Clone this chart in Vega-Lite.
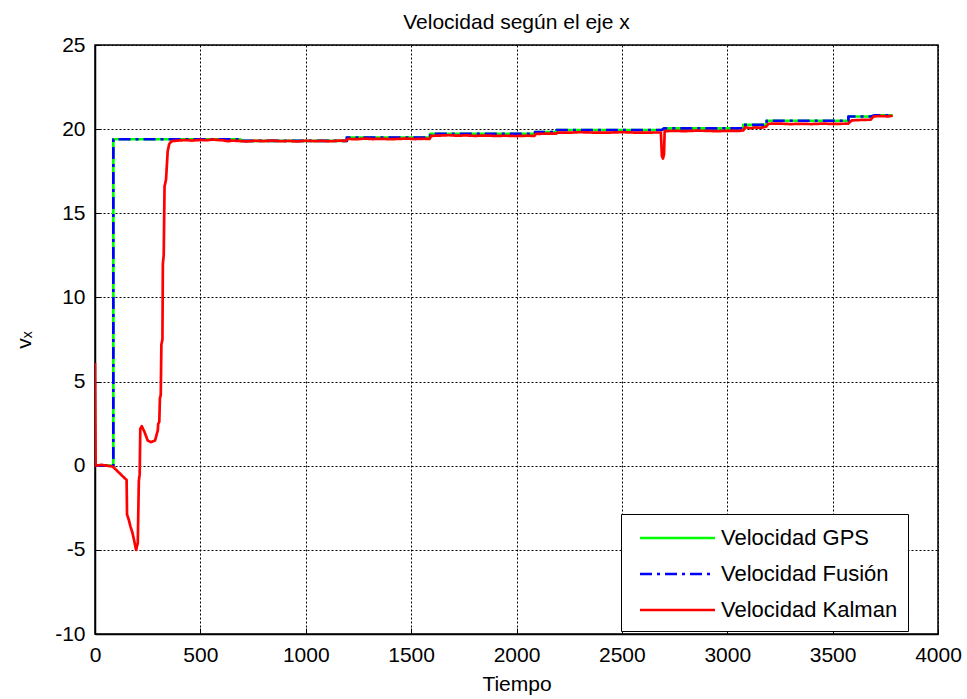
{
  "$schema": "https://vega.github.io/schema/vega-lite/v6.json",
  "width": 843,
  "height": 589,
  "autosize": {"type": "none"},
  "padding": {"left": 95, "top": 45, "right": 29, "bottom": 65},
  "background": "white",
  "config": {
    "font": "Liberation Sans",
    "view": {"stroke": "black", "strokeWidth": 1.5},
    "axis": {
      "domainColor": "black", "domainWidth": 1.5,
      "tickColor": "black", "tickSize": -6, "tickWidth": 1,
      "labelColor": "black", "labelFontSize": 21, "labelFont": "Liberation Sans",
      "titleColor": "black", "titleFontSize": 21, "titleFontWeight": "normal", "titleFont": "Liberation Sans",
      "grid": true, "gridColor": "black", "gridDash": [2, 2], "gridWidth": 1, "gridOpacity": 1
    }
  },
  "title": {"text": "Velocidad según el eje x", "fontSize": 21, "fontWeight": "normal", "font": "Liberation Sans", "color": "black", "offset": 1},
  "data": {"values": [
    {"s":"Velocidad GPS","i":1,"t":0,"v":0},
    {"s":"Velocidad GPS","i":2,"t":87,"v":0},
    {"s":"Velocidad GPS","i":3,"t":87,"v":19.4},
    {"s":"Velocidad GPS","i":4,"t":690,"v":19.4},
    {"s":"Velocidad GPS","i":5,"t":690,"v":19.3},
    {"s":"Velocidad GPS","i":6,"t":1195,"v":19.3},
    {"s":"Velocidad GPS","i":7,"t":1195,"v":19.5},
    {"s":"Velocidad GPS","i":8,"t":1590,"v":19.5},
    {"s":"Velocidad GPS","i":9,"t":1590,"v":19.72},
    {"s":"Velocidad GPS","i":10,"t":2088,"v":19.72},
    {"s":"Velocidad GPS","i":11,"t":2088,"v":19.82},
    {"s":"Velocidad GPS","i":12,"t":2190,"v":19.82},
    {"s":"Velocidad GPS","i":13,"t":2190,"v":19.95},
    {"s":"Velocidad GPS","i":14,"t":2690,"v":19.95},
    {"s":"Velocidad GPS","i":15,"t":2700,"v":20.05},
    {"s":"Velocidad GPS","i":16,"t":3076,"v":20.05},
    {"s":"Velocidad GPS","i":17,"t":3076,"v":20.25},
    {"s":"Velocidad GPS","i":18,"t":3187,"v":20.25},
    {"s":"Velocidad GPS","i":19,"t":3187,"v":20.5},
    {"s":"Velocidad GPS","i":20,"t":3575,"v":20.5},
    {"s":"Velocidad GPS","i":21,"t":3575,"v":20.75},
    {"s":"Velocidad GPS","i":22,"t":3680,"v":20.75},
    {"s":"Velocidad GPS","i":23,"t":3700,"v":20.82},
    {"s":"Velocidad GPS","i":24,"t":3785,"v":20.82},

    {"s":"Velocidad Fusión","i":1,"t":0,"v":0},
    {"s":"Velocidad Fusión","i":2,"t":87,"v":0},
    {"s":"Velocidad Fusión","i":3,"t":87,"v":19.4},
    {"s":"Velocidad Fusión","i":4,"t":690,"v":19.4},
    {"s":"Velocidad Fusión","i":5,"t":690,"v":19.3},
    {"s":"Velocidad Fusión","i":6,"t":1195,"v":19.3},
    {"s":"Velocidad Fusión","i":7,"t":1195,"v":19.5},
    {"s":"Velocidad Fusión","i":8,"t":1590,"v":19.5},
    {"s":"Velocidad Fusión","i":9,"t":1590,"v":19.72},
    {"s":"Velocidad Fusión","i":10,"t":2088,"v":19.72},
    {"s":"Velocidad Fusión","i":11,"t":2088,"v":19.82},
    {"s":"Velocidad Fusión","i":12,"t":2190,"v":19.82},
    {"s":"Velocidad Fusión","i":13,"t":2190,"v":19.95},
    {"s":"Velocidad Fusión","i":14,"t":2690,"v":19.95},
    {"s":"Velocidad Fusión","i":15,"t":2700,"v":20.05},
    {"s":"Velocidad Fusión","i":16,"t":3076,"v":20.05},
    {"s":"Velocidad Fusión","i":17,"t":3076,"v":20.25},
    {"s":"Velocidad Fusión","i":18,"t":3187,"v":20.25},
    {"s":"Velocidad Fusión","i":19,"t":3187,"v":20.5},
    {"s":"Velocidad Fusión","i":20,"t":3575,"v":20.5},
    {"s":"Velocidad Fusión","i":21,"t":3575,"v":20.75},
    {"s":"Velocidad Fusión","i":22,"t":3680,"v":20.75},
    {"s":"Velocidad Fusión","i":23,"t":3700,"v":20.82},
    {"s":"Velocidad Fusión","i":24,"t":3785,"v":20.82},

    {"s":"Velocidad Kalman","i":1,"t":0,"v":6.1},
    {"s":"Velocidad Kalman","i":2,"t":3,"v":0},
    {"s":"Velocidad Kalman","i":3,"t":30,"v":0.05},
    {"s":"Velocidad Kalman","i":4,"t":84,"v":-0.05},
    {"s":"Velocidad Kalman","i":5,"t":150,"v":-0.85},
    {"s":"Velocidad Kalman","i":6,"t":152,"v":-2.9},
    {"s":"Velocidad Kalman","i":7,"t":160,"v":-3.2},
    {"s":"Velocidad Kalman","i":8,"t":168,"v":-3.6},
    {"s":"Velocidad Kalman","i":9,"t":178,"v":-4.0},
    {"s":"Velocidad Kalman","i":10,"t":185,"v":-4.4},
    {"s":"Velocidad Kalman","i":11,"t":195,"v":-5.0},
    {"s":"Velocidad Kalman","i":12,"t":203,"v":-4.6},
    {"s":"Velocidad Kalman","i":13,"t":208,"v":-0.9},
    {"s":"Velocidad Kalman","i":14,"t":212,"v":-0.5},
    {"s":"Velocidad Kalman","i":15,"t":215,"v":2.2},
    {"s":"Velocidad Kalman","i":16,"t":222,"v":2.35},
    {"s":"Velocidad Kalman","i":17,"t":235,"v":2.0},
    {"s":"Velocidad Kalman","i":18,"t":250,"v":1.5},
    {"s":"Velocidad Kalman","i":19,"t":265,"v":1.4},
    {"s":"Velocidad Kalman","i":20,"t":285,"v":1.5},
    {"s":"Velocidad Kalman","i":21,"t":298,"v":2.1},
    {"s":"Velocidad Kalman","i":22,"t":300,"v":2.5},
    {"s":"Velocidad Kalman","i":23,"t":305,"v":2.6},
    {"s":"Velocidad Kalman","i":24,"t":308,"v":4.0},
    {"s":"Velocidad Kalman","i":25,"t":312,"v":4.2},
    {"s":"Velocidad Kalman","i":26,"t":315,"v":7.2},
    {"s":"Velocidad Kalman","i":27,"t":320,"v":7.5},
    {"s":"Velocidad Kalman","i":28,"t":322,"v":12.0},
    {"s":"Velocidad Kalman","i":29,"t":326,"v":12.5},
    {"s":"Velocidad Kalman","i":30,"t":330,"v":16.6},
    {"s":"Velocidad Kalman","i":31,"t":337,"v":17.0},
    {"s":"Velocidad Kalman","i":32,"t":345,"v":18.7},
    {"s":"Velocidad Kalman","i":33,"t":352,"v":19.1},
    {"s":"Velocidad Kalman","i":34,"t":360,"v":19.25},
    {"s":"Velocidad Kalman","i":35,"t":372,"v":19.3},
    {"s":"Velocidad Kalman","i":36,"t":400,"v":19.33},
    {"s":"Velocidad Kalman","i":37,"t":430,"v":19.35},
    {"s":"Velocidad Kalman","i":38,"t":460,"v":19.32},
    {"s":"Velocidad Kalman","i":39,"t":500,"v":19.36},
    {"s":"Velocidad Kalman","i":40,"t":530,"v":19.34},
    {"s":"Velocidad Kalman","i":41,"t":560,"v":19.38},
    {"s":"Velocidad Kalman","i":42,"t":590,"v":19.35},
    {"s":"Velocidad Kalman","i":43,"t":610,"v":19.33},
    {"s":"Velocidad Kalman","i":44,"t":630,"v":19.28},
    {"s":"Velocidad Kalman","i":45,"t":650,"v":19.32},
    {"s":"Velocidad Kalman","i":46,"t":680,"v":19.3},
    {"s":"Velocidad Kalman","i":47,"t":720,"v":19.27},
    {"s":"Velocidad Kalman","i":48,"t":760,"v":19.31},
    {"s":"Velocidad Kalman","i":49,"t":800,"v":19.29},
    {"s":"Velocidad Kalman","i":50,"t":840,"v":19.32},
    {"s":"Velocidad Kalman","i":51,"t":880,"v":19.28},
    {"s":"Velocidad Kalman","i":52,"t":920,"v":19.3},
    {"s":"Velocidad Kalman","i":53,"t":960,"v":19.27},
    {"s":"Velocidad Kalman","i":54,"t":1000,"v":19.31},
    {"s":"Velocidad Kalman","i":55,"t":1040,"v":19.29},
    {"s":"Velocidad Kalman","i":56,"t":1080,"v":19.3},
    {"s":"Velocidad Kalman","i":57,"t":1120,"v":19.28},
    {"s":"Velocidad Kalman","i":58,"t":1160,"v":19.32},
    {"s":"Velocidad Kalman","i":59,"t":1190,"v":19.3},
    {"s":"Velocidad Kalman","i":60,"t":1200,"v":19.42},
    {"s":"Velocidad Kalman","i":61,"t":1240,"v":19.4},
    {"s":"Velocidad Kalman","i":62,"t":1280,"v":19.44},
    {"s":"Velocidad Kalman","i":63,"t":1320,"v":19.41},
    {"s":"Velocidad Kalman","i":64,"t":1360,"v":19.43},
    {"s":"Velocidad Kalman","i":65,"t":1400,"v":19.4},
    {"s":"Velocidad Kalman","i":66,"t":1440,"v":19.42},
    {"s":"Velocidad Kalman","i":67,"t":1480,"v":19.44},
    {"s":"Velocidad Kalman","i":68,"t":1520,"v":19.41},
    {"s":"Velocidad Kalman","i":69,"t":1560,"v":19.43},
    {"s":"Velocidad Kalman","i":70,"t":1588,"v":19.42},
    {"s":"Velocidad Kalman","i":71,"t":1595,"v":19.6},
    {"s":"Velocidad Kalman","i":72,"t":1640,"v":19.62},
    {"s":"Velocidad Kalman","i":73,"t":1680,"v":19.64},
    {"s":"Velocidad Kalman","i":74,"t":1720,"v":19.61},
    {"s":"Velocidad Kalman","i":75,"t":1760,"v":19.63},
    {"s":"Velocidad Kalman","i":76,"t":1800,"v":19.6},
    {"s":"Velocidad Kalman","i":77,"t":1850,"v":19.62},
    {"s":"Velocidad Kalman","i":78,"t":1900,"v":19.6},
    {"s":"Velocidad Kalman","i":79,"t":1950,"v":19.61},
    {"s":"Velocidad Kalman","i":80,"t":2000,"v":19.59},
    {"s":"Velocidad Kalman","i":81,"t":2050,"v":19.61},
    {"s":"Velocidad Kalman","i":82,"t":2085,"v":19.6},
    {"s":"Velocidad Kalman","i":83,"t":2092,"v":19.72},
    {"s":"Velocidad Kalman","i":84,"t":2140,"v":19.73},
    {"s":"Velocidad Kalman","i":85,"t":2190,"v":19.74},
    {"s":"Velocidad Kalman","i":86,"t":2195,"v":19.8},
    {"s":"Velocidad Kalman","i":87,"t":2250,"v":19.79},
    {"s":"Velocidad Kalman","i":88,"t":2300,"v":19.82},
    {"s":"Velocidad Kalman","i":89,"t":2350,"v":19.8},
    {"s":"Velocidad Kalman","i":90,"t":2400,"v":19.79},
    {"s":"Velocidad Kalman","i":91,"t":2450,"v":19.8},
    {"s":"Velocidad Kalman","i":92,"t":2500,"v":19.82},
    {"s":"Velocidad Kalman","i":93,"t":2550,"v":19.8},
    {"s":"Velocidad Kalman","i":94,"t":2600,"v":19.79},
    {"s":"Velocidad Kalman","i":95,"t":2650,"v":19.8},
    {"s":"Velocidad Kalman","i":96,"t":2685,"v":19.8},
    {"s":"Velocidad Kalman","i":97,"t":2690,"v":18.4},
    {"s":"Velocidad Kalman","i":98,"t":2695,"v":18.25},
    {"s":"Velocidad Kalman","i":99,"t":2700,"v":18.5},
    {"s":"Velocidad Kalman","i":100,"t":2703,"v":19.88},
    {"s":"Velocidad Kalman","i":101,"t":2750,"v":19.9},
    {"s":"Velocidad Kalman","i":102,"t":2800,"v":19.88},
    {"s":"Velocidad Kalman","i":103,"t":2850,"v":19.91},
    {"s":"Velocidad Kalman","i":104,"t":2900,"v":19.9},
    {"s":"Velocidad Kalman","i":105,"t":2950,"v":19.88},
    {"s":"Velocidad Kalman","i":106,"t":3000,"v":19.9},
    {"s":"Velocidad Kalman","i":107,"t":3050,"v":19.89},
    {"s":"Velocidad Kalman","i":108,"t":3076,"v":19.92},
    {"s":"Velocidad Kalman","i":109,"t":3085,"v":20.12},
    {"s":"Velocidad Kalman","i":110,"t":3110,"v":20.05},
    {"s":"Velocidad Kalman","i":111,"t":3130,"v":20.1},
    {"s":"Velocidad Kalman","i":112,"t":3160,"v":20.08},
    {"s":"Velocidad Kalman","i":113,"t":3185,"v":20.15},
    {"s":"Velocidad Kalman","i":114,"t":3195,"v":20.32},
    {"s":"Velocidad Kalman","i":115,"t":3250,"v":20.33},
    {"s":"Velocidad Kalman","i":116,"t":3300,"v":20.3},
    {"s":"Velocidad Kalman","i":117,"t":3350,"v":20.32},
    {"s":"Velocidad Kalman","i":118,"t":3400,"v":20.3},
    {"s":"Velocidad Kalman","i":119,"t":3450,"v":20.33},
    {"s":"Velocidad Kalman","i":120,"t":3500,"v":20.31},
    {"s":"Velocidad Kalman","i":121,"t":3550,"v":20.32},
    {"s":"Velocidad Kalman","i":122,"t":3575,"v":20.33},
    {"s":"Velocidad Kalman","i":123,"t":3590,"v":20.52},
    {"s":"Velocidad Kalman","i":124,"t":3640,"v":20.55},
    {"s":"Velocidad Kalman","i":125,"t":3680,"v":20.56},
    {"s":"Velocidad Kalman","i":126,"t":3695,"v":20.76},
    {"s":"Velocidad Kalman","i":127,"t":3740,"v":20.78},
    {"s":"Velocidad Kalman","i":128,"t":3760,"v":20.75},
    {"s":"Velocidad Kalman","i":129,"t":3785,"v":20.8}
  ]},
  "mark": {"type": "line", "clip": true, "strokeJoin": "round"},
  "encoding": {
    "x": {"field": "t", "type": "quantitative",
      "scale": {"domain": [0, 4000], "nice": false, "zero": false},
      "axis": {"values": [0,500,1000,1500,2000,2500,3000,3500,4000], "labelExpr": "'' + datum.value", "title": "Tiempo", "labelPadding": 16, "titlePadding": 8, "labelFlush": false}},
    "y": {"field": "v", "type": "quantitative",
      "scale": {"domain": [-10, 25], "nice": false, "zero": false},
      "axis": {"values": [-10,-5,0,5,10,15,20,25], "labelExpr": "'' + datum.value", "title": "vₓ", "labelPadding": 16, "titlePadding": 20, "labelFlush": false}},
    "order": {"field": "i", "type": "quantitative"},
    "color": {"field": "s", "type": "nominal",
      "scale": {"domain": ["Velocidad GPS", "Velocidad Fusión", "Velocidad Kalman"], "range": ["#00FF00", "#0000FF", "#FF0000"]},
      "legend": {"title": null, "orient": "none", "legendX": 526, "legendY": 469, "direction": "vertical",
        "strokeColor": "black", "fillColor": "white", "padding": 10, "symbolType": "M-0.4,0H5.6", "symbolSize": 625,
        "symbolStrokeWidth": 3, "labelFontSize": 22, "labelColor": "black", "labelFont": "Liberation Sans", "labelOffset": 62, "rowPadding": 11, "labelLimit": 300,
        "labelExpr": "datum.label + '  '"}},
    "strokeDash": {"field": "s", "type": "nominal",
      "scale": {"domain": ["Velocidad GPS", "Velocidad Fusión", "Velocidad Kalman"], "range": [[1, 0], [12, 5, 3, 5], [1, 0]]}},
    "strokeWidth": {"field": "s", "type": "nominal",
      "scale": {"domain": ["Velocidad GPS", "Velocidad Fusión", "Velocidad Kalman"], "range": [2.7, 2.7, 3.5]}, "legend": null}
  }
}
